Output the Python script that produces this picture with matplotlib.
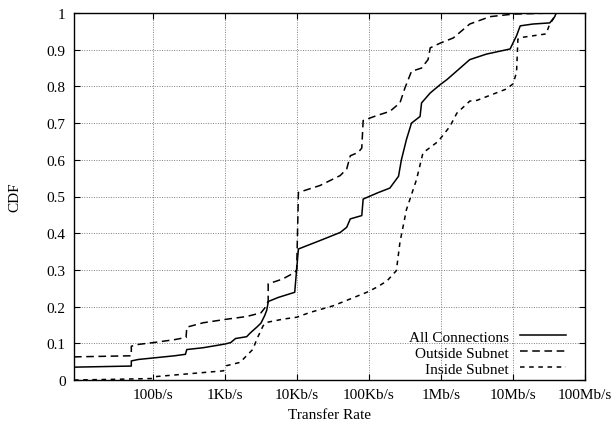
import matplotlib
matplotlib.use("Agg")
import matplotlib.pyplot as plt

plt.rcParams["font.family"] = ["Liberation Serif", "DejaVu Serif"]
plt.rcParams["font.size"] = 11

# transfer rates in b/s and cumulative fractions
all_rate = [8, 50, 50, 63, 100, 200, 282, 295, 500, 1000, 1200, 1400, 2000,
            2240, 2800, 3160, 3550, 3800, 4000, 5500, 9300, 9900, 10470,
            20900, 39800, 49000, 55000, 79400, 83000, 131800, 195000,
            257000, 282000, 331000, 389000, 512000, 537000, 708000, 977000,
            1200000, 1550000, 2510000, 4270000, 9120000, 10100000, 11200000,
            12600000, 19000000, 32400000, 38000000, 39800000]
all_cdf = [0.035, 0.038, 0.052, 0.056, 0.06, 0.066, 0.07, 0.083, 0.088, 0.098,
           0.102, 0.113, 0.118, 0.128, 0.145, 0.155, 0.175, 0.19, 0.214, 0.225,
           0.239, 0.302, 0.357, 0.38, 0.402, 0.416, 0.439, 0.448, 0.493, 0.51,
           0.523, 0.555, 0.60, 0.655, 0.70, 0.718, 0.755, 0.782, 0.805, 0.818,
           0.837, 0.873, 0.888, 0.902, 0.92, 0.938, 0.965, 0.97, 0.973, 0.99,
           1.0]

out_rate = [8, 50, 50, 63, 112, 200, 288, 295, 500, 1000, 2000, 3160, 3700,
            3980, 3980, 6300, 9300, 9900, 10470, 20900, 39800, 49000, 55000,
            70800, 79400, 83000, 126000, 195000, 269000, 316000, 389000,
            537000, 661000, 708000, 977000, 1480000, 2510000, 4790000,
            10000000, 36300000]
out_cdf = [0.063, 0.066, 0.092, 0.097, 0.103, 0.11, 0.116, 0.144, 0.156,
           0.165, 0.173, 0.183, 0.2, 0.215, 0.262, 0.275, 0.293, 0.30, 0.511,
           0.53, 0.557, 0.575, 0.611, 0.62, 0.632, 0.707, 0.72, 0.732, 0.755,
           0.796, 0.841, 0.85, 0.873, 0.905, 0.918, 0.932, 0.97, 0.99, 0.997,
           1.0]

in_rate = [8, 32, 95, 105, 955, 1050, 1620, 2450, 2750, 3390, 3800, 6460,
           9900, 15100, 31600, 93300, 129000, 178000, 240000, 269000, 331000,
           457000, 562000, 912000, 1330000, 1660000, 2510000, 3160000,
           8130000, 10000000, 11200000, 11700000, 13800000, 28800000,
           32400000, 36300000, 39800000]
in_cdf = [0.0, 0.002, 0.004, 0.009, 0.025, 0.039, 0.048, 0.084, 0.11, 0.148,
          0.157, 0.166, 0.171, 0.184, 0.202, 0.239, 0.253, 0.27, 0.298, 0.375,
          0.464, 0.546, 0.619, 0.65, 0.691, 0.727, 0.76, 0.762, 0.793, 0.807,
          0.838, 0.929, 0.934, 0.943, 0.97, 0.984, 1.0]

tick_rates = [1e2, 1e3, 1e4, 1e5, 1e6, 1e7, 1e8]
tick_labels = ["100b/s", "1Kb/s", "10Kb/s", "100Kb/s", "1Mb/s", "10Mb/s",
               "100Mb/s"]

fig = plt.figure(figsize=(6.13, 4.27), dpi=100)
ax = fig.add_axes([74 / 613, 1 - 381 / 427, 511 / 613, 367 / 427])

ax.plot(all_rate, all_cdf, color="black", lw=1.1, label="All Connections")
ax.plot(out_rate, out_cdf, color="black", lw=1.1, dashes=(5, 3),
        label="Outside Subnet")
ax.plot(in_rate, in_cdf, color="black", lw=1.1, dashes=(3, 3),
        label="Inside Subnet")

ax.set_xscale("log")
ax.set_xlim(8, 1e8)
ax.set_ylim(0, 1)
ax.set_xticks(tick_rates)
ax.set_xticklabels(tick_labels)
ax.xaxis.set_minor_locator(matplotlib.ticker.NullLocator())
ax.set_yticks([i / 10 for i in range(11)])
ax.set_yticklabels(["0", "0.1", "0.2", "0.3", "0.4", "0.5", "0.6", "0.7",
                    "0.8", "0.9", "1"])
ax.tick_params(direction="in", length=4, width=0.8, top=True, right=True,
               pad=6)
ax.grid(True, color="0.5", lw=0.7, linestyle=(0, (1, 1.5)))
for s in ax.spines.values():
    s.set_linewidth(1.0)

ax.set_xlabel("Transfer Rate", labelpad=5)
ax.set_ylabel("CDF", labelpad=18)

leg = ax.legend(loc="lower right", bbox_to_anchor=(0.962, 0.012),
                frameon=False, markerfirst=False, handlelength=3.0,
                handletextpad=0.7, labelspacing=0.15, borderpad=0,
                borderaxespad=0)

fig.savefig("out.png", dpi=100)
